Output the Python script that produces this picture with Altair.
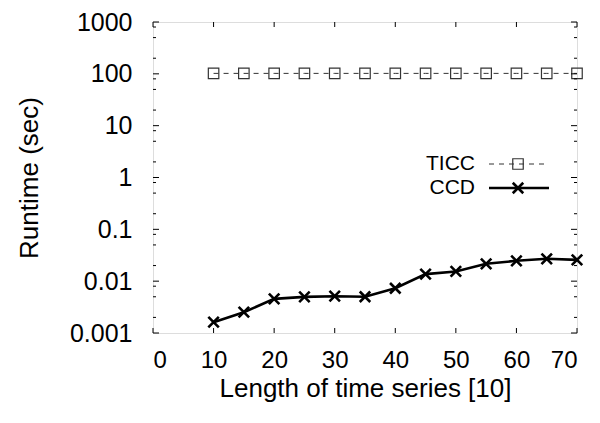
import altair as alt
import pandas as pd

x_vals = [10, 15, 20, 25, 30, 35, 40, 45, 50, 55, 60, 65, 70]
ticc = [102, 102, 102, 102, 102, 102, 102, 102, 102, 102, 102, 102, 102]
ccd = [0.00162, 0.00252, 0.00455, 0.00497, 0.00513, 0.00500, 0.0073, 0.0137, 0.0154, 0.0216, 0.0247, 0.027, 0.0258]
y_ticks = [0.001, 0.01, 0.1, 1, 10, 100, 1000]
y_minor = [m * d for d in [0.001, 0.01, 0.1, 1, 10, 100] for m in [2, 5, 8]]
x_ticks = [0, 10, 20, 30, 40, 50, 60, 70]
series = ["TICC", "CCD"]

FONT = "Liberation Sans"
W, H = 424, 311

df_ticc = pd.DataFrame({"x": x_vals, "y": ticc})
df_ccd = pd.DataFrame({"x": x_vals, "y": ccd})

xs = alt.Scale(domain=[0, 70], nice=False, zero=False)
ys = alt.Scale(type="log", domain=[0.001, 1000], nice=False)

X_PATH = "M-1,-1L1,1M-1,1L1,-1"

base_x = alt.X("x:Q", scale=xs, axis=alt.Axis(
    values=x_ticks, ticks=False, domain=False, grid=False, labelFont=FONT,
    labelFontSize=24, labelColor="black", labelPadding=15, labelBaseline="top",
    title="Length of time series [10]", titleFont=FONT, titleFontSize=26,
    titleFontWeight="normal", titleColor="black", titleX=W / 2, titleY=63,
    titleBaseline="alphabetic", titleAlign="center"))
base_y = alt.Y("y:Q", scale=ys, axis=alt.Axis(
    values=y_ticks, format="~g", ticks=False, domain=False, grid=False,
    labelFont=FONT, labelFontSize=25, labelColor="black", labelPadding=21,
    title="Runtime (sec)", titleFont=FONT, titleFontSize=26,
    titleFontWeight="normal", titleColor="black", titleX=-124, titleY=H / 2,
    titleAngle=-90, titleAlign="center", titleBaseline="middle"))

px = alt.X("x:Q", scale=xs)
py = alt.Y("y:Q", scale=ys)

ticc_line = alt.Chart(df_ticc).mark_line(color="#333", strokeWidth=1, strokeDash=[5, 5]).encode(x=base_x, y=base_y)
ticc_pts = alt.Chart(df_ticc).mark_point(shape="square", size=110, color="#333", strokeWidth=1.2, filled=False, opacity=1).encode(x=px, y=py)
ccd_line = alt.Chart(df_ccd).mark_line(color="black", strokeWidth=2.6).encode(x=px, y=py)
ccd_pts = alt.Chart(df_ccd).mark_point(shape=X_PATH, size=110, color="black", strokeWidth=2.6, filled=False, opacity=1).encode(x=px, y=py)

# inside ticks
df_yt = pd.DataFrame({"y": y_ticks})
df_ym = pd.DataFrame({"y": y_minor})
df_xt = pd.DataFrame({"x": x_ticks})
tk = dict(color="black", strokeWidth=1)
yl = alt.Chart(df_yt).mark_rule(**tk).encode(y=py, x=alt.value(0), x2=alt.value(6))
yr = alt.Chart(df_yt).mark_rule(**tk).encode(y=py, x=alt.value(W - 6), x2=alt.value(W))
yml = alt.Chart(df_ym).mark_rule(**tk).encode(y=py, x=alt.value(0), x2=alt.value(3))
ymr = alt.Chart(df_ym).mark_rule(**tk).encode(y=py, x=alt.value(W - 3), x2=alt.value(W))
xb = alt.Chart(df_xt).mark_rule(**tk).encode(x=px, y=alt.value(H - 5), y2=alt.value(H))
xt = alt.Chart(df_xt).mark_rule(**tk).encode(x=px, y=alt.value(0), y2=alt.value(5))

# legend
def leg_label(name, ypos):
    return alt.Chart(pd.DataFrame({"s": [name]})).mark_text(
        font=FONT, fontSize=21, align="right", baseline="middle", color="black").encode(
        text="s:N", x=alt.value(322), y=alt.value(ypos))

leg_t1 = leg_label(series[0], 142)
leg_t2 = leg_label(series[1], 166)
leg_l1 = alt.Chart(pd.DataFrame({"s": ["TICC"]})).mark_rule(color="#333", strokeWidth=1, strokeDash=[5, 5]).encode(
    x=alt.value(336), x2=alt.value(396), y=alt.value(142))
leg_p1 = alt.Chart(pd.DataFrame({"s": ["TICC"]})).mark_point(shape="square", size=110, color="#333", strokeWidth=1.2, filled=False, opacity=1).encode(
    x=alt.value(365), y=alt.value(142))
leg_l2 = alt.Chart(pd.DataFrame({"s": ["CCD"]})).mark_rule(color="black", strokeWidth=2.6).encode(
    x=alt.value(336), x2=alt.value(396), y=alt.value(166))
leg_p2 = alt.Chart(pd.DataFrame({"s": ["CCD"]})).mark_point(shape=X_PATH, size=110, color="black", strokeWidth=2.6, filled=False, opacity=1).encode(
    x=alt.value(365), y=alt.value(166))

chart = alt.layer(
    ticc_line, ticc_pts, ccd_line, ccd_pts, yl, yr, yml, ymr, xb, xt,
    leg_t1, leg_t2, leg_l1, leg_p1, leg_l2, leg_p2
).properties(
    width=W, height=H, autosize="none",
    padding={"left": 145, "top": 14, "right": 15, "bottom": 82},
).configure_view(stroke="black", strokeWidth=1.2).configure_axis(grid=False).configure(background="white")

chart.save("out.html", embed_options={"renderer": "svg", "actions": False})
